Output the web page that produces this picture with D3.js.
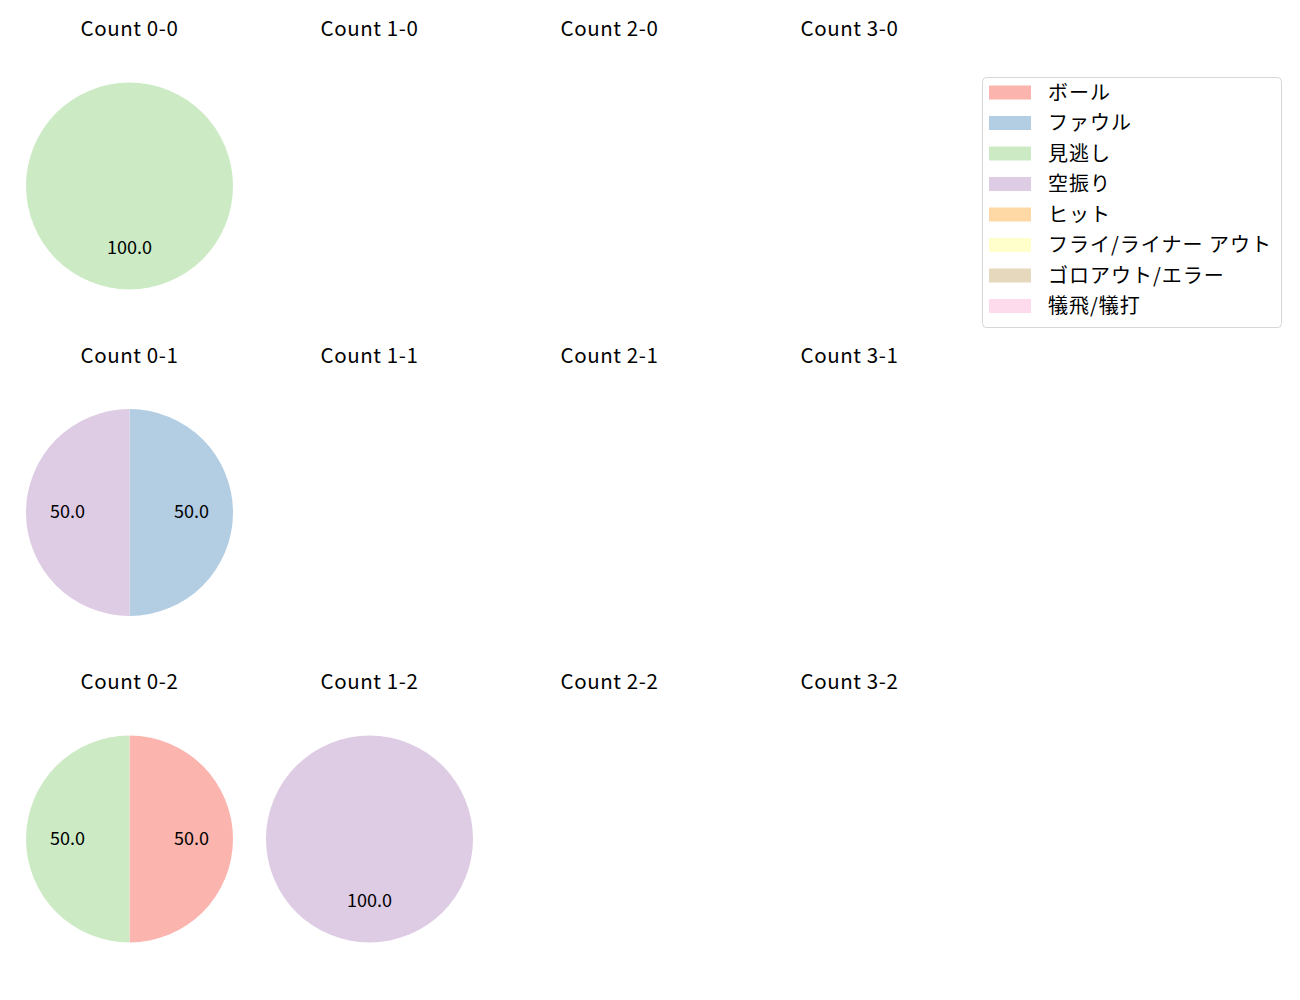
<!DOCTYPE html>
<html>
<head>
<meta charset="utf-8">
<script src="https://cdn.jsdelivr.net/npm/d3@7"></script>
<style>
  body { margin: 0; background: #fff; }
  text { font-family: "Noto Sans CJK JP", "Noto Sans", sans-serif; fill: #000; }
</style>
</head>
<body>
<div id="chart"></div>
<script>
// Pitch outcome share per ball-strike count, one pie per count

var categories = [ 'ボール', 'ファウル', '見逃し', '空振り', 'ヒット',
  'フライ/ライナー アウト', 'ゴロアウト/エラー', '犠飛/犠打' ];
var colors = [ '#fbb4ae', '#b3cde3', '#ccebc5', '#decbe4', '#fed9a6',
  '#ffffcc', '#e5d8bd', '#fddaec' ];

var balls = [ 0, 1, 2, 3 ];
var strikes = [ 0, 1, 2 ];

// Pitch counts per category, keyed by 'balls-strikes'
var count00 = [ 0, 0, 1, 0, 0, 0, 0, 0 ];
var count01 = [ 0, 1, 0, 1, 0, 0, 0, 0 ];
var count02 = [ 1, 0, 1, 0, 0, 0, 0, 0 ];
var count12 = [ 0, 0, 0, 1, 0, 0, 0, 0 ];
var countValues = { '0-0': count00, '0-1': count01, '0-2': count02, '1-2': count12 };

var width = 1300;
var height = 1000;

var svg = d3.select( '#chart' ).append( 'svg' )
  .attr( 'width', width )
  .attr( 'height', height );

// Grid of subplot centres
var x = d3.scaleLinear().domain( [ 0, 3 ] ).range( [ 129.5, 849.5 ] );
var y = d3.scaleLinear().domain( [ 0, 2 ] ).range( [ 186, 839 ] );
var r = 103.5;

var pie = d3.pie().sort( null ).value( function( d ) { return d.value; } );
var arc = d3.arc().innerRadius( 0 ).outerRadius( r );
var labelArc = d3.arc().innerRadius( 0.6 * r ).outerRadius( 0.6 * r );

strikes.forEach( function( s ) {
  balls.forEach( function( b ) {
    var key = b + '-' + s;
    var g = svg.append( 'g' )
      .attr( 'transform', 'translate(' + x( b ) + ',' + y( s ) + ')' );

    g.append( 'text' )
      .attr( 'y', -150 )
      .attr( 'text-anchor', 'middle' )
      .style( 'font-size', '20.5px' )
      .style( 'letter-spacing', '0.6px' )
      .text( 'Count ' + key );

    var vals = countValues[ key ];
    if ( !vals ) return;
    var total = d3.sum( vals );
    var slices = pie( vals.map( function( v, i ) {
      return { value: v, i: i };
    } ).filter( function( d ) { return d.value > 0; } ) );

    g.selectAll( 'path' )
      .data( slices )
      .enter().append( 'path' )
      .attr( 'd', arc )
      .attr( 'fill', function( d ) { return colors[ d.data.i ]; } );

    g.selectAll( '.pct' )
      .data( slices )
      .enter().append( 'text' )
      .attr( 'class', 'pct' )
      .attr( 'transform', function( d ) {
        return 'translate(' + labelArc.centroid( d ) + ')';
      } )
      .attr( 'text-anchor', 'middle' )
      .attr( 'dy', '5.5px' )
      .style( 'font-size', '18px' )
      .text( function( d ) {
        return ( 100 * d.data.value / total ).toFixed( 1 );
      } );
  } );
} );

// Legend
var legend = svg.append( 'g' ).attr( 'transform', 'translate(982,77)' );
legend.append( 'rect' )
  .attr( 'x', 0.5 ).attr( 'y', 0.5 )
  .attr( 'width', 299 ).attr( 'height', 250 )
  .attr( 'rx', 4 )
  .attr( 'fill', '#fff' )
  .attr( 'stroke', '#d6d6d6' );

var row = d3.scaleLinear().domain( [ 0, 7 ] ).range( [ 15.5, 229 ] );
var items = legend.selectAll( '.item' )
  .data( categories )
  .enter().append( 'g' )
  .attr( 'class', 'item' )
  .attr( 'transform', function( d, i ) { return 'translate(0,' + row( i ) + ')'; } );

items.append( 'rect' )
  .attr( 'x', 7 ).attr( 'y', -7 )
  .attr( 'width', 42 ).attr( 'height', 14 )
  .attr( 'fill', function( d, i ) { return colors[ i ]; } );

items.append( 'text' )
  .attr( 'x', 66 )
  .attr( 'dy', '.36em' )
  .style( 'font-size', '20px' )
  .style( 'letter-spacing', '1px' )
  .text( function( d ) { return d; } );
</script>
</body>
</html>
